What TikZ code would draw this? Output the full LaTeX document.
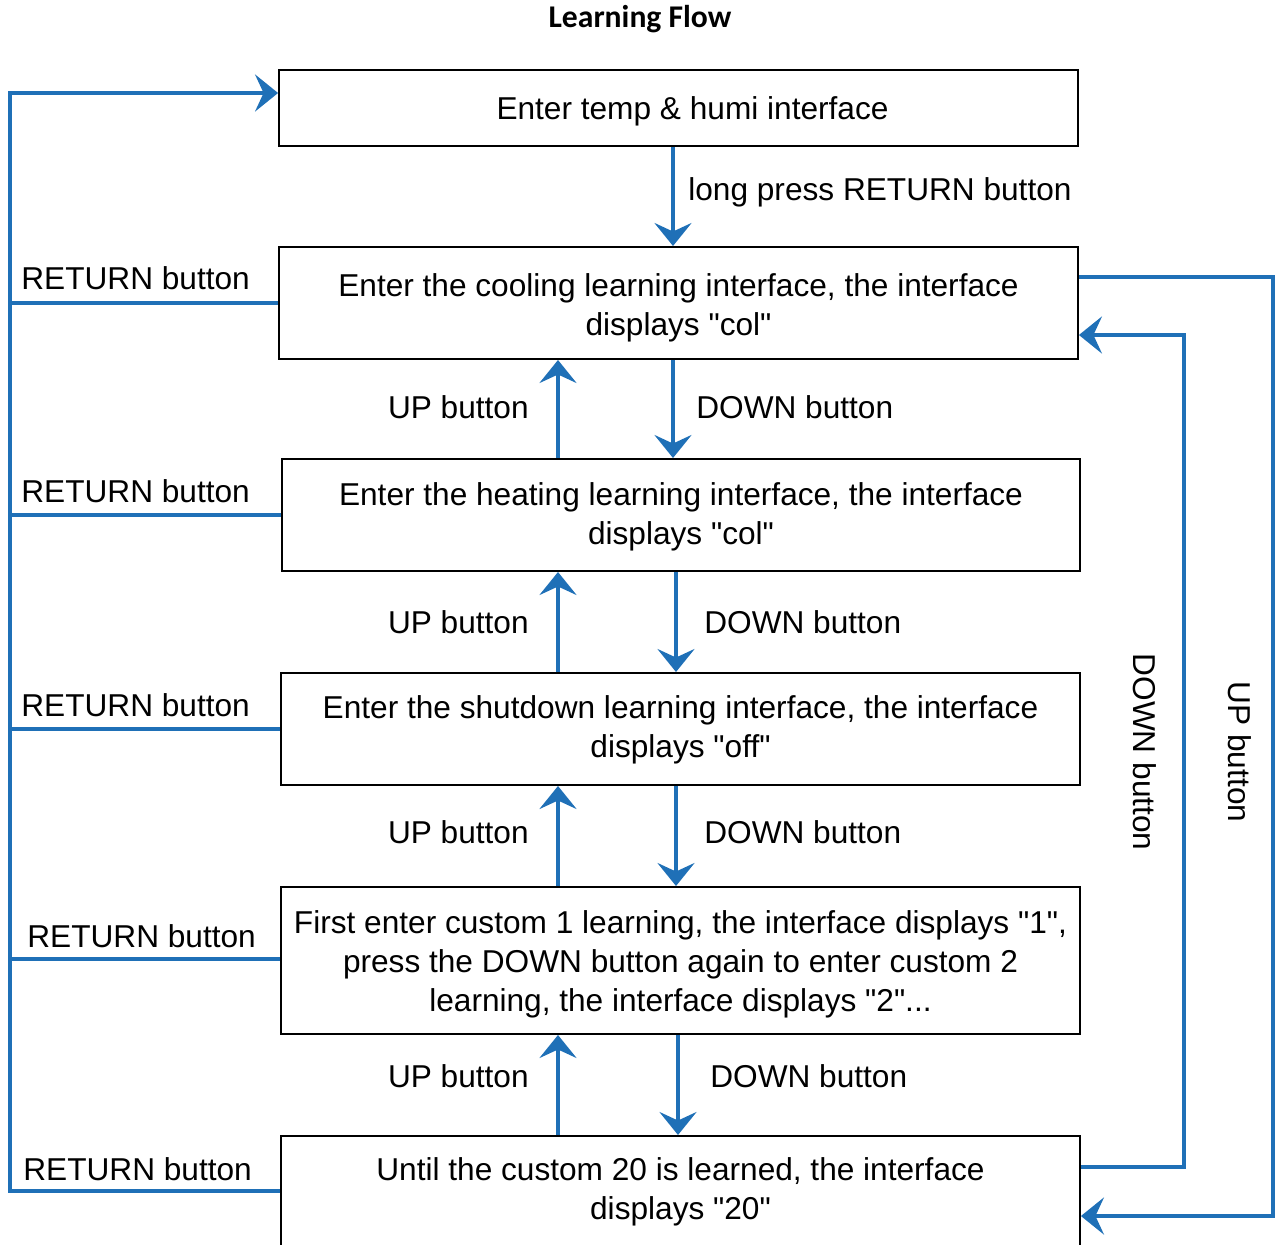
\documentclass[tikz,border=0pt]{standalone}
\usepackage{fontspec}
\setmainfont{Liberation Sans}[Ligatures=TeXOff]
\newfontfamily\titlefont{Carlito}
\usetikzlibrary{arrows.meta}
\definecolor{flowblue}{RGB}{31,112,183}
\begin{document}
\begin{tikzpicture}[x=0.02cm,y=-0.02cm,
  font=\fontsize{18}{22}\selectfont,
  box/.style={draw=black,line width=0.04cm,inner sep=0pt,minimum width=15.98cm},
  txt/.style={align=center,inner sep=0pt},
  bl/.style={draw=flowblue,line width=0.08cm},
  arr/.style={bl,-{Stealth[length=0.46cm,width=0.74cm,inset=0.17cm]}},
  lbl/.style={inner sep=0pt}]
\useasboundingbox (0,0) rectangle (1276,1245);
\node[inner sep=0pt,font=\titlefont\bfseries\fontsize{18}{22}\selectfont] (title) at (640,19) {Learning Flow};
\node[box,minimum height=1.52cm] (b1) at (678.5,108) {};
\node[txt] (t1) at (b1.center) [yshift=-0.06cm,xshift=0.28cm] {Enter temp \& humi interface};
\node[box,minimum height=2.24cm] (b2) at (678.5,303) {};
\node[txt] (t2) at (b2.center) [yshift=-0.1cm] {Enter the cooling learning interface, the interface\\displays "col"};
\node[box,minimum height=2.24cm] (b3) at (681,515) {};
\node[txt] (t3) at (b3.center) [yshift=-0.04cm] {Enter the heating learning interface, the interface\\displays "col"};
\node[box,minimum height=2.24cm] (b4) at (680.5,729) {};
\node[txt] (t4) at (b4.center) [yshift=-0.02cm] {Enter the shutdown learning interface, the interface\\displays "off"};
\node[box,minimum height=2.94cm] (b5) at (680.5,960.5) {};
\node[txt,font=\fontsize{18}{22.2}\selectfont] (t5) at (b5.center) [yshift=-0.08cm] {First enter custom 1 learning, the interface displays "1",\\press the DOWN button again to enter custom 2\\learning, the interface displays "2"...};
\node[box,minimum height=2.28cm] (b6) at (680.5,1193) {};
\node[txt] (t6) at (b6.center) [yshift=0.02cm] {Until the custom 20 is learned, the interface\\displays "20"};
\coordinate (cu) at (558,0);
\coordinate (L) at (10,93);
% vertical flow
\draw[arr] (673,0 |- b1.south) -- (673,0 |- b2.north);
\node[lbl,anchor=west] (lp) at (688,192) {long press RETURN button};
\draw[arr] (673,0 |- b2.south) -- (673,0 |- b3.north);
\draw[arr] (cu |- b3.north) -- (cu |- b2.south);
\draw[arr] (676,0 |- b3.south) -- (676,0 |- b4.north);
\draw[arr] (cu |- b4.north) -- (cu |- b3.south);
\draw[arr] (676,0 |- b4.south) -- (676,0 |- b5.north);
\draw[arr] (cu |- b5.north) -- (cu |- b4.south);
\draw[arr] (678,0 |- b5.south) -- (678,0 |- b6.north);
\draw[arr] (cu |- b6.north) -- (cu |- b5.south);
\node[lbl,anchor=east] (u1) at (529,407) {UP button};
\node[lbl,anchor=west] (d1) at (696,407) {DOWN button};
\node[lbl,anchor=east] (u2) at (529,622) {UP button};
\node[lbl,anchor=west] (d2) at (704,622) {DOWN button};
\node[lbl,anchor=east] (u3) at (529,832) {UP button};
\node[lbl,anchor=west] (d3) at (704,832) {DOWN button};
\node[lbl,anchor=east] (u4) at (529,1076) {UP button};
\node[lbl,anchor=west] (d4) at (710,1076) {DOWN button};
% left return lines
\draw[arr] (b6.west |- 0,1191) -- (10,1191) -- (L) -- (b1.west |- L);
\draw[bl] (b2.west) -- (b2.west -| L);
\draw[bl] (b3.west) -- (b3.west -| L);
\draw[bl] (b4.west) -- (b4.west -| L);
\draw[bl] (b5.west |- 0,959) -- (10,959);
\node[lbl,anchor=west] (r1) at (21,278) {RETURN button};
\node[lbl,anchor=west] (r2) at (21,491) {RETURN button};
\node[lbl,anchor=west] (r3) at (21,705) {RETURN button};
\node[lbl,anchor=west] (r4) at (27,936) {RETURN button};
\node[lbl,anchor=west] (r5) at (23,1169) {RETURN button};
% right loops
\draw[arr] (b2.east |- 0,277) -- (1273,277) -- (1273,1216) -- (b6.east |- 0,1216);
\draw[arr] (b6.east |- 0,1167) -- (1184,1167) -- (1184,335) -- (b2.east |- 0,335);
\node[lbl,rotate=-90] (dr) at (1145,752) {DOWN button};
\node[lbl,rotate=-90] (ur) at (1240,752) {UP button};
\end{tikzpicture}
\end{document}
